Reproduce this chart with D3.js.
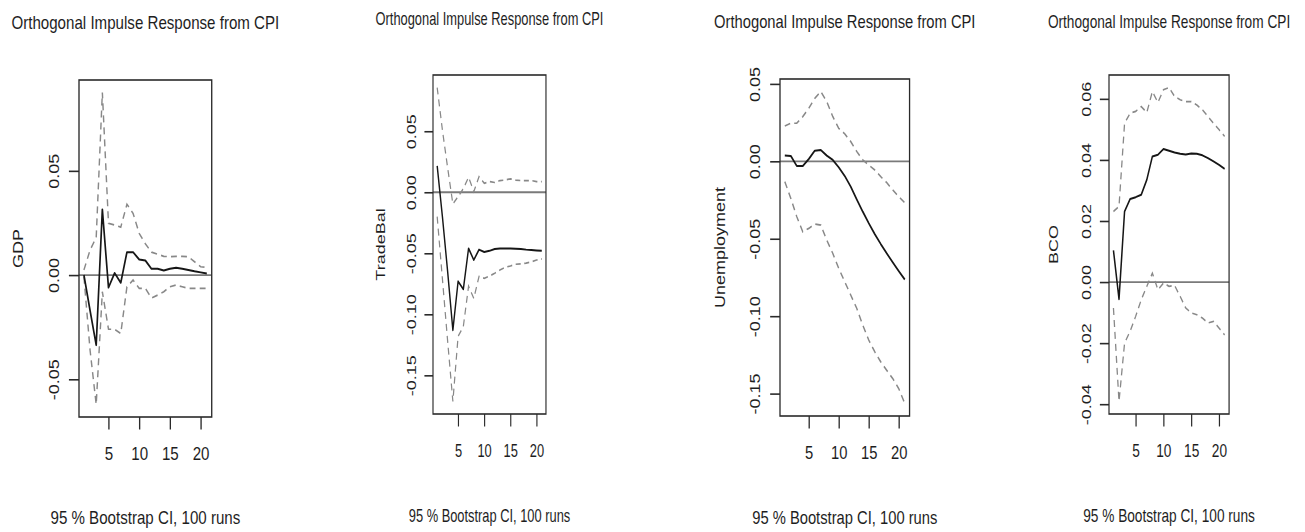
<!DOCTYPE html>
<html>

<head>
    <title>Orthogonal Impulse Response from CPI</title>
    <script src="https://cdn.jsdelivr.net/npm/d3@7"></script>
    <style>
        * {
            padding: 0;
            margin: 0;
        }

        body {
            background: #fff;
            overflow: hidden;
        }

        text {
            font-family: "Liberation Sans", Arial, sans-serif;
            fill: #1e1e1e;
        }
    </style>
</head>

<body>
    <div id="chart"></div>
</body>
<script>
    // forecast horizon (steps after the CPI shock)
    const steps = [1, 2, 3, 4, 5, 6, 7, 8, 9, 10, 11, 12, 13, 14, 15, 16, 17, 18, 19, 20, 21]
    const xTicks = [5, 10, 15, 20]

    const gdpIrf = [0.000, -0.017, -0.0336, 0.0315, -0.006, 0.001, -0.0037, 0.011, 0.011, 0.0075, 0.007, 0.003, 0.003, 0.0022, 0.003, 0.0035, 0.003, 0.0024, 0.0018, 0.0013, 0.0008]
    const gdpUpper = [0.0024, 0.012, 0.018, 0.0876, 0.0248, 0.024, 0.023, 0.034, 0.0296, 0.020, 0.015, 0.011, 0.010, 0.009, 0.0088, 0.009, 0.009, 0.0088, 0.0064, 0.004, 0.0037]
    const gdpLower = [-0.0008, -0.036, -0.0621, -0.008, -0.026, -0.026, -0.028, -0.0056, -0.0024, -0.0064, -0.0064, -0.011, -0.0096, -0.008, -0.0056, -0.0048, -0.0056, -0.0064, -0.0064, -0.0064, -0.0064]
    const gdpTicks = [-0.05, 0, 0.05]

    const tradeIrf = [0.0216, -0.020, -0.065, -0.113, -0.073, -0.0795, -0.046, -0.0555, -0.047, -0.049, -0.048, -0.0465, -0.046, -0.046, -0.046, -0.0462, -0.0465, -0.047, -0.0473, -0.0477, -0.048]
    const tradeUpper = [0.0858, 0.051, 0.020, -0.0096, -0.0036, 0.003, 0.0123, 0.0005, 0.0128, 0.0074, 0.0087, 0.008, 0.0096, 0.010, 0.011, 0.010, 0.0096, 0.0096, 0.0096, 0.0087, 0.0087]
    const tradeLower = [-0.020, -0.071, -0.122, -0.1714, -0.118, -0.110, -0.077, -0.087, -0.069, -0.0705, -0.0686, -0.0664, -0.0637, -0.0615, -0.0604, -0.059, -0.0587, -0.058, -0.057, -0.0555, -0.0546]
    const tradeTicks = [-0.15, -0.10, -0.05, 0, 0.05]

    const unempIrf = [0.0037, 0.0035, -0.003, -0.003, 0.0015, 0.0069, 0.0073, 0.0037, 0.0009, -0.0039, -0.0095, -0.0164, -0.0246, -0.0325, -0.040, -0.047, -0.0534, -0.0595, -0.0653, -0.0709, -0.0763]
    const unempUpper = [0.0228, 0.0246, 0.0246, 0.0289, 0.0343, 0.0407, 0.0451, 0.0386, 0.0289, 0.0213, 0.0177, 0.0127, 0.0063, 0.0009, -0.0024, -0.0056, -0.0099, -0.0138, -0.0185, -0.0228, -0.0267]
    const unempLower = [-0.0131, -0.0239, -0.0358, -0.0455, -0.0433, -0.0405, -0.0412, -0.0509, -0.0595, -0.0692, -0.0778, -0.0864, -0.095, -0.1058, -0.1155, -0.123, -0.1295, -0.135, -0.1403, -0.1468, -0.1564]
    const unempTicks = [-0.15, -0.10, -0.05, 0, 0.05]

    const bcoIrf = [0.0104, -0.0056, 0.0231, 0.0272, 0.0278, 0.0286, 0.0335, 0.0411, 0.0417, 0.0436, 0.043, 0.0424, 0.042, 0.0418, 0.0421, 0.042, 0.0415, 0.0406, 0.0395, 0.0384, 0.0371]
    const bcoUpper = [0.0231, 0.0248, 0.052, 0.0553, 0.0559, 0.0575, 0.0555, 0.0624, 0.0588, 0.063, 0.0637, 0.0608, 0.0597, 0.0591, 0.0591, 0.058, 0.0564, 0.0542, 0.052, 0.0499, 0.0477]
    const bcoLower = [-0.0085, -0.0391, -0.020, -0.0161, -0.0112, -0.0058, -0.0014, 0.0029, -0.0025, -0.0003, -0.0014, -0.0011, -0.0047, -0.0085, -0.0101, -0.0107, -0.0118, -0.0134, -0.0129, -0.0151, -0.0173]
    const bcoTicks = [-0.04, -0.02, 0, 0.02, 0.04, 0.06]

    const titleText = 'Orthogonal Impulse Response from CPI'
    const footText = '95 % Bootstrap CI,  100 runs'

    // each panel of the picture is squeezed sideways by its own factor (sx)
    const panels = [
        { name: 'GDP', irf: gdpIrf, upper: gdpUpper, lower: gdpLower, ticks: gdpTicks, left: 79, top: 80, bottom: 417, sx: 0.84, titleY: 29, footY: 524 },
        { name: 'TradeBal', irf: tradeIrf, upper: tradeUpper, lower: tradeLower, ticks: tradeTicks, left: 433, top: 75, bottom: 414, sx: 0.715, titleY: 25, footY: 522 },
        { name: 'Unemployment', irf: unempIrf, upper: unempUpper, lower: unempLower, ticks: unempTicks, left: 780, top: 79, bottom: 416, sx: 0.82, titleY: 28, footY: 524 },
        { name: 'BCO', irf: bcoIrf, upper: bcoUpper, lower: bcoLower, ticks: bcoTicks, left: 1109, top: 75, bottom: 414, sx: 0.76, titleY: 28, footY: 522 }
    ]

    const W = 1305,
        H = 532
    const boxW = 158 // width of a plot box before squeezing
    const fontSize = 18

    const svg = d3.select('#chart').append('svg')
        .attr('width', W)
        .attr('height', H)

    // R style range: data extent widened by 4 % at each end
    function rRange(lo, hi) {
        const pad = (hi - lo) * 0.04
        return [lo - pad, hi + pad]
    }

    function fmt(v) {
        let s = v.toFixed(2)
        if (s == '-0.00') s = '0.00'
        return s
    }

    panels.forEach(function(p) {
        const g = svg.append('g')
            .attr('transform', 'translate(' + p.left + ',0) scale(' + p.sx + ',1)')

        const x = d3.scaleLinear()
            .domain(rRange(d3.min(steps), d3.max(steps)))
            .range([0, boxW])

        const all = p.irf.concat(p.upper, p.lower)
        const y = d3.scaleLinear()
            .domain(rRange(d3.min(all), d3.max(all)))
            .range([p.bottom, p.top])

        const line = d3.line()
            .x((d, i) => x(steps[i]))
            .y(d => y(d))

        // zero line
        g.append('line')
            .attr('x1', 0)
            .attr('x2', boxW)
            .attr('y1', y(0))
            .attr('y2', y(0))
            .attr('stroke', '#7a7a7a')
            .attr('stroke-width', 1.8)

        // bootstrap bands
        ;[p.upper, p.lower].forEach(function(band) {
            g.append('path')
                .datum(band)
                .attr('d', line)
                .attr('fill', 'none')
                .attr('stroke', '#888')
                .attr('stroke-width', 1.7)
                .attr('stroke-dasharray', '7,5')
        })

        // response
        g.append('path')
            .datum(p.irf)
            .attr('d', line)
            .attr('fill', 'none')
            .attr('stroke', '#161616')
            .attr('stroke-width', 2)
            .attr('stroke-linejoin', 'round')

        // box
        g.append('rect')
            .attr('x', 0)
            .attr('y', p.top)
            .attr('width', boxW)
            .attr('height', p.bottom - p.top)
            .attr('fill', 'none')
            .attr('stroke', '#2a2a2a')
            .attr('stroke-width', 1.6)

        // x axis
        const xAxis = g.append('g')
            .attr('transform', 'translate(0,' + p.bottom + ')')
            .call(d3.axisBottom(x).tickValues(xTicks).tickSize(12.5).tickSizeOuter(0))
        xAxis.select('.domain').remove()
        xAxis.selectAll('line').attr('stroke', '#2a2a2a').attr('stroke-width', 1.6)
        xAxis.selectAll('text')
            .attr('y', 43)
            .attr('dy', 0)
            .attr('fill', '#1e1e1e')
            .style('font-size', fontSize + 'px')
            .style('font-family', '"Liberation Sans", Arial, sans-serif')

        // y axis, labels turned parallel to the axis like R does
        const yAxis = g.append('g')
            .call(d3.axisLeft(y).tickValues(p.ticks).tickSize(12).tickFormat(fmt))
        yAxis.select('.domain').remove()
        yAxis.selectAll('line').attr('stroke', '#2a2a2a').attr('stroke-width', 1.6)
        yAxis.selectAll('text')
            .attr('x', 0)
            .attr('dy', 0)
            .attr('transform', 'translate(-24,0) rotate(-90)')
            .attr('text-anchor', 'middle')
            .attr('fill', '#1e1e1e')
            .style('font-size', fontSize + 'px')
            .style('font-family', '"Liberation Sans", Arial, sans-serif')

        // y label
        g.append('text')
            .attr('transform', 'translate(-67,' + (p.top + p.bottom) / 2 + ') rotate(-90)')
            .attr('text-anchor', 'middle')
            .style('font-size', fontSize + 'px')
            .text(p.name)

        g.append('text')
            .attr('x', boxW / 2)
            .attr('y', p.titleY)
            .attr('text-anchor', 'middle')
            .style('font-size', fontSize + 'px')
            .text(titleText)

        g.append('text')
            .attr('x', boxW / 2)
            .attr('y', p.footY)
            .attr('text-anchor', 'middle')
            .style('font-size', fontSize + 'px')
            .text(footText)
    })
</script>

</html>
